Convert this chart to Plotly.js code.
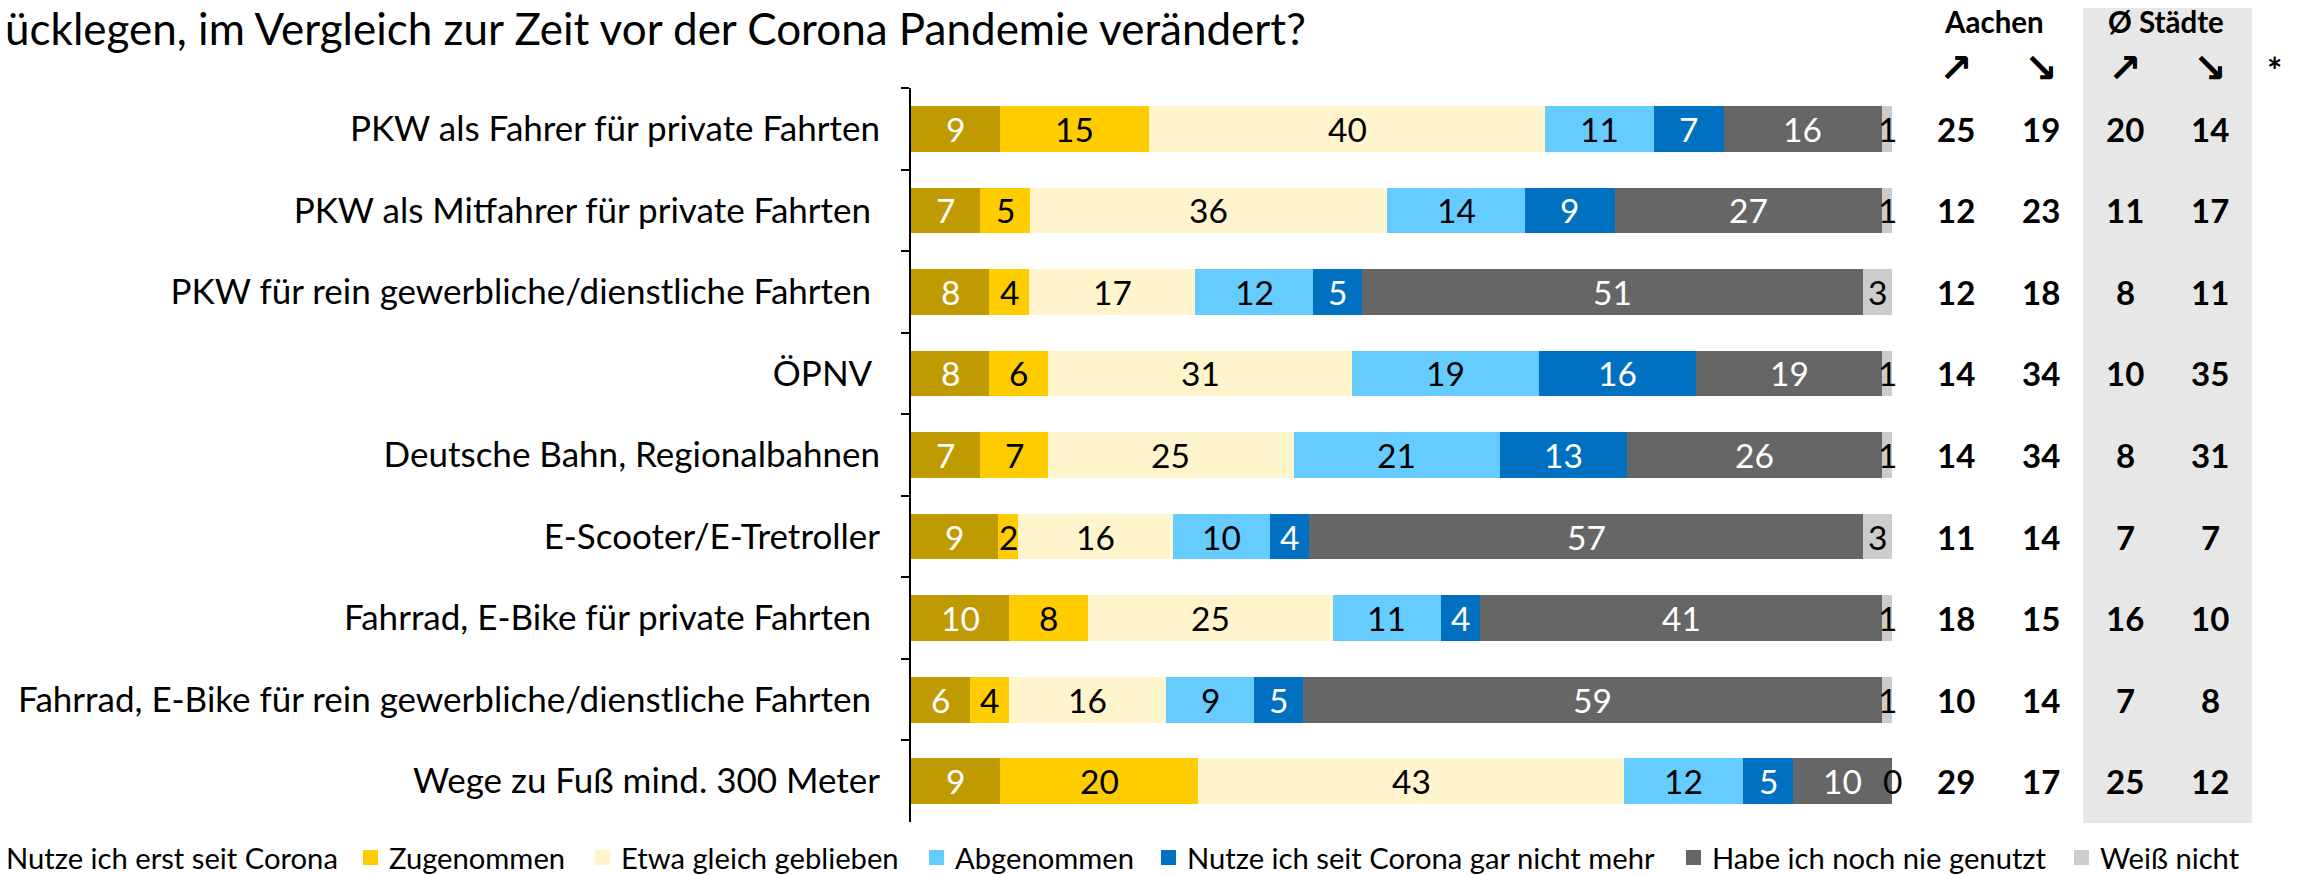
<!DOCTYPE html>
<html>
<head>
<meta charset="utf-8">
<script src="https://cdn.plot.ly/plotly-3.0.1.min.js"></script>
<style>
html,body{margin:0;padding:0;background:#fff;}
#chart{width:2305px;height:875px;}
</style>
</head>
<body>
<div id="chart"></div>
<script>
// ---------- DATA ----------
const categories = [
  "PKW als Fahrer für private Fahrten",
  "PKW als Mitfahrer für private Fahrten\u00a0",
  "PKW für rein gewerbliche/dienstliche Fahrten\u00a0",
  "ÖPNV\u00a0",
  "Deutsche Bahn, Regionalbahnen",
  "E-Scooter/E-Tretroller",
  "Fahrrad, E-Bike für private Fahrten\u00a0",
  "Fahrrad, E-Bike für rein gewerbliche/dienstliche Fahrten\u00a0",
  "Wege zu Fuß mind. 300 Meter"
];
const seriesNames = [
  "Nutze ich erst seit Corona",
  "Zugenommen",
  "Etwa gleich geblieben",
  "Abgenommen",
  "Nutze ich seit Corona gar nicht mehr",
  "Habe ich noch nie genutzt",
  "Weiß nicht"
];
const nutzeErstSeitCorona = [9, 7, 8, 8, 7, 9, 10, 6, 9];
const zugenommen          = [15, 5, 4, 6, 7, 2, 8, 4, 20];
const etwaGleich          = [40, 36, 17, 31, 25, 16, 25, 16, 43];
const abgenommen          = [11, 14, 12, 19, 21, 10, 11, 9, 12];
const garNichtMehr        = [7, 9, 5, 16, 13, 4, 4, 5, 5];
const nochNieGenutzt      = [16, 27, 51, 19, 26, 57, 41, 59, 10];
const weissNicht          = [1, 1, 3, 1, 1, 3, 1, 1, 0];

const aachenUp    = [25, 12, 12, 14, 14, 11, 18, 10, 29];
const aachenDown  = [19, 23, 18, 34, 34, 14, 15, 14, 17];
const staedteUp   = [20, 11, 8, 10, 8, 7, 16, 7, 25];
const staedteDown = [14, 17, 11, 35, 31, 7, 10, 8, 12];

const columnHeaders = ["Aachen", "Ø Städte"];
const arrowLabels = ["↗", "↘", "↗", "↘"];
const titleText = "ücklegen, im Vergleich zur Zeit vor der Corona Pandemie verändert?";

// ---------- STYLE ----------
const seriesValues = [nutzeErstSeitCorona, zugenommen, etwaGleich, abgenommen, garNichtMehr, nochNieGenutzt, weissNicht];
const seriesColors = ["#BF9A00", "#FFCC00", "#FFF4CC", "#66CCFF", "#0070C0", "#666666", "#CCCCCC"];
const labelColors  = ["#FFFFFF", "#000000", "#000000", "#000000", "#FFFFFF", "#FFFFFF", "#000000"];
const FONT = "Lato, 'Noto Sans', sans-serif";

const W = 2305, H = 875;
const L = 911, R = 1892, T = 88, B = 822;
const px = x => (x - L) / (R - L);
const py = y => (B - y) / (B - T);

const traces = seriesValues.map((vals, s) => ({
  type: "bar",
  orientation: "h",
  name: seriesNames[s],
  y: categories,
  x: vals,
  marker: {color: seriesColors[s], line: {width: 0}},
  hoverinfo: "skip",
  showlegend: false
}));

const annotations = [];
// segment value labels
categories.forEach((cat, i) => {
  const total = seriesValues.reduce((a, v) => a + v[i], 0);
  let cum = 0;
  seriesValues.forEach((vals, s) => {
    const v = vals[i];
    const center = (cum + v / 2) * 100 / total;
    cum += v;
    annotations.push({
      xref: "x", yref: "y", x: center, y: cat,
      text: String(v), showarrow: false,
      xanchor: "center", yanchor: "middle",
      font: {family: FONT, size: 33.5, color: labelColors[s]}
    });
  });
});
// right-side columns
const colX = [1956, 2041, 2125, 2210];
[aachenUp, aachenDown, staedteUp, staedteDown].forEach((col, c) => {
  col.forEach((v, i) => {
    annotations.push({
      xref: "paper", yref: "y", x: px(colX[c]), y: categories[i],
      text: "<b>" + v + "</b>", showarrow: false,
      xanchor: "center", yanchor: "middle",
      font: {family: FONT, size: 33, color: "#000"}
    });
  });
  annotations.push({
    xref: "paper", yref: "paper", x: px(colX[c]), y: py(68),
    text: "<b>" + arrowLabels[c] + "</b>", showarrow: false,
    xanchor: "center", yanchor: "middle",
    font: {family: "DejaVu Sans, sans-serif", size: 40, color: "#000"}
  });
});
annotations.push({
  xref: "paper", yref: "paper", x: px(2274), y: py(70),
  text: "<b>*</b>", showarrow: false, xanchor: "center", yanchor: "middle",
  font: {family: FONT, size: 36, color: "#000"}
});
[1994, 2166].forEach((hx, k) => {
  annotations.push({
    xref: "paper", yref: "paper", x: px(hx), y: py(22),
    text: "<b>" + columnHeaders[k] + "</b>", showarrow: false,
    xanchor: "center", yanchor: "middle",
    font: {family: FONT, size: 29.5, color: "#000"}
  });
});

// custom legend
const legendSquareX = [-25, 363, 595, 929, 1161, 1686, 2074];
const legendTextX   = [4, 387, 619, 953, 1185, 1710, 2098];
const legendY = 857;
const shapes = [{
  type: "rect", xref: "paper", yref: "paper", layer: "below",
  x0: px(2083), x1: px(2252), y0: py(823), y1: py(8),
  fillcolor: "#E7E7E7", line: {width: 0}
}];
seriesNames.forEach((n, s) => {
  shapes.push({
    type: "rect", xref: "paper", yref: "paper",
    x0: px(legendSquareX[s]), x1: px(legendSquareX[s] + 15),
    y0: py(legendY + 8), y1: py(legendY - 7),
    fillcolor: seriesColors[s], line: {width: 0}
  });
  annotations.push({
    xref: "paper", yref: "paper", x: px(legendTextX[s]), y: py(legendY),
    text: n, showarrow: false, xanchor: "left", yanchor: "middle",
    font: {family: FONT, size: 29.2, color: "#000"}
  });
});

const layout = {
  width: W, height: H,
  paper_bgcolor: "#fff", plot_bgcolor: "rgba(0,0,0,0)",
  margin: {l: L, r: W - R, t: T, b: H - B, pad: 0},
  title: {
    text: titleText, xref: "container", yref: "container",
    x: 5 / W, xanchor: "left", y: 1 - 30 / H, yanchor: "middle",
    font: {family: FONT, size: 44, color: "#000"}
  },
  barmode: "stack", barnorm: "percent", bargap: 0.44,
  xaxis: {range: [0, 100], visible: false, fixedrange: true},
  yaxis: {
    type: "category", range: [categories.length - 0.5, -0.5],
    tickson: "boundaries", ticks: "outside", ticklen: 8, tickwidth: 2, tickcolor: "#000",
    showline: true, linecolor: "#000", linewidth: 2, showgrid: false, zeroline: false,
    tickfont: {family: FONT, size: 35, color: "#000"}, ticklabelstandoff: 22,
    fixedrange: true
  },
  showlegend: false,
  annotations: annotations,
  shapes: shapes
};

Plotly.newPlot("chart", traces, layout, {staticPlot: true, displayModeBar: false});
</script>
</body>
</html>
